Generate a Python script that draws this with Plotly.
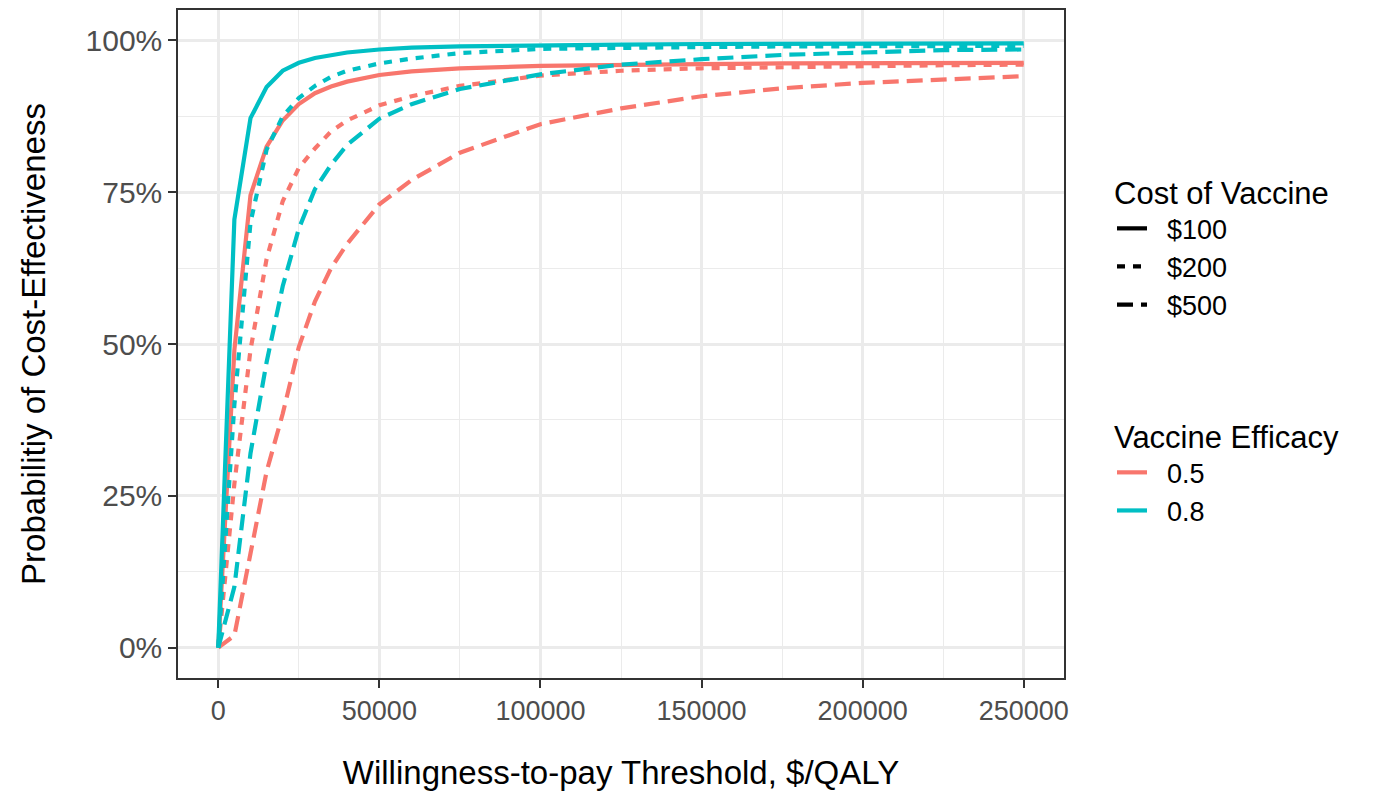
import plotly.graph_objects as go

# Willingness-to-pay thresholds ($/QALY)
wtp = [0, 5000, 10000, 15000, 20000, 25000, 30000, 35000, 40000, 50000, 60000,
       75000, 100000, 125000, 150000, 175000, 200000, 225000, 250000]

# Probability of cost-effectiveness, efficacy 0.5
eff05_c100 = [0, 0.49, 0.745, 0.825, 0.868, 0.895, 0.913, 0.924, 0.932, 0.943, 0.949,
              0.954, 0.958, 0.960, 0.961, 0.962, 0.962, 0.963, 0.963]
eff05_c200 = [0, 0.27, 0.49, 0.64, 0.735, 0.79, 0.822, 0.85, 0.868, 0.893, 0.908,
              0.925, 0.942, 0.950, 0.954, 0.956, 0.958, 0.959, 0.960]
eff05_c500 = [0, 0.02, 0.155, 0.29, 0.385, 0.495, 0.57, 0.625, 0.665, 0.73, 0.77,
              0.815, 0.862, 0.888, 0.908, 0.921, 0.930, 0.936, 0.941]

# Probability of cost-effectiveness, efficacy 0.8
eff08_c100 = [0, 0.705, 0.872, 0.923, 0.950, 0.963, 0.971, 0.976, 0.980, 0.985, 0.988,
              0.990, 0.992, 0.993, 0.994, 0.994, 0.995, 0.995, 0.995]
eff08_c200 = [0, 0.40, 0.70, 0.82, 0.875, 0.905, 0.925, 0.94, 0.95, 0.962, 0.970,
              0.979, 0.986, 0.988, 0.989, 0.990, 0.990, 0.991, 0.991]
eff08_c500 = [0, 0.10, 0.32, 0.47, 0.595, 0.69, 0.755, 0.795, 0.828, 0.871, 0.895,
              0.920, 0.944, 0.960, 0.969, 0.976, 0.980, 0.984, 0.985]

cost_labels = ["$100", "$200", "$500"]
efficacy_labels = ["0.5", "0.8"]

x_tickvals = [0, 50000, 100000, 150000, 200000, 250000]
x_ticktext = ["0", "50000", "100000", "150000", "200000", "250000"]
y_tickvals = [0, 0.25, 0.5, 0.75, 1.0]
y_ticktext = ["0%", "25%", "50%", "75%", "100%"]

colors = {"0.5": "#F8766D", "0.8": "#00BFC4"}
dashes = {"$100": "solid", "$200": "8px,8px", "$500": "16px,8px"}

series = [
    ("0.5", "$100", eff05_c100),
    ("0.5", "$200", eff05_c200),
    ("0.5", "$500", eff05_c500),
    ("0.8", "$100", eff08_c100),
    ("0.8", "$200", eff08_c200),
    ("0.8", "$500", eff08_c500),
]

LW = 4.2
PAD = "\u00a0\u00a0"  # small gap between legend key and label

fig = go.Figure()
for eff, cost, vals in series:
    fig.add_trace(go.Scatter(
        x=wtp, y=vals, mode="lines",
        line=dict(color=colors[eff], width=LW, dash=dashes[cost]),
        showlegend=False, hoverinfo="x+y",
    ))

# legend entries: cost (linetype)
for cost in cost_labels:
    fig.add_trace(go.Scatter(
        x=[None], y=[None], mode="lines", name=PAD + cost,
        line=dict(color="black", width=LW, dash=dashes[cost]),
        legend="legend",
    ))
# legend entries: efficacy (colour)
for eff in efficacy_labels:
    fig.add_trace(go.Scatter(
        x=[None], y=[None], mode="lines", name=PAD + eff,
        line=dict(color=colors[eff], width=LW),
        legend="legend2",
    ))

font_family = "Liberation Sans, Arial, sans-serif"

fig.update_layout(
    width=1376, height=800,
    margin=dict(l=178, r=312, t=8, b=122),
    paper_bgcolor="white", plot_bgcolor="white",
    font=dict(family=font_family, color="black"),
    legend=dict(
        title=dict(text="Cost of Vaccine", font=dict(size=31, color="black")),
        font=dict(size=27, color="black"),
        xref="container", yref="container",
        x=1112 / 1376, y=(800 - 164) / 800, xanchor="left", yanchor="top",
        bgcolor="rgba(0,0,0,0)", itemwidth=30, tracegroupgap=0,
    ),
    legend2=dict(
        title=dict(text="Vaccine Efficacy", font=dict(size=31, color="black")),
        font=dict(size=27, color="black"),
        xref="container", yref="container",
        x=1112 / 1376, y=(800 - 408) / 800, xanchor="left", yanchor="top",
        bgcolor="rgba(0,0,0,0)", itemwidth=30, tracegroupgap=0,
    ),
    xaxis=dict(
        range=[-12500, 262500],
        tickvals=x_tickvals, ticktext=x_ticktext,
        tickfont=dict(size=27, color="#4D4D4D"),
        ticks="outside", ticklen=8, tickwidth=1.5, tickcolor="#333333",
        showline=True, linecolor="#333333", linewidth=1.5, mirror=True,
        showgrid=True, gridcolor="#EBEBEB", gridwidth=2.5,
        minor=dict(tickvals=[25000, 75000, 125000, 175000, 225000],
                   showgrid=True, gridcolor="#EBEBEB", gridwidth=1.3, ticks=""),
        zeroline=False,
        title=dict(text="Willingness-to-pay Threshold, $/QALY",
                   font=dict(size=33, color="black"), standoff=36),
    ),
    yaxis=dict(
        range=[-0.05, 1.05],
        tickvals=y_tickvals, ticktext=y_ticktext,
        tickfont=dict(size=30, color="#4D4D4D"),
        ticks="outside", ticklen=8, tickwidth=1.5, tickcolor="#333333",
        showline=True, linecolor="#333333", linewidth=1.5, mirror=True,
        showgrid=True, gridcolor="#EBEBEB", gridwidth=2.5,
        minor=dict(tickvals=[0.125, 0.375, 0.625, 0.875],
                   showgrid=True, gridcolor="#EBEBEB", gridwidth=1.3, ticks=""),
        zeroline=False,
        title=dict(text="Probabilitiy of Cost-Effectiveness",
                   font=dict(size=33, color="black"), standoff=30),
    ),
)

fig.write_html("out.html")
